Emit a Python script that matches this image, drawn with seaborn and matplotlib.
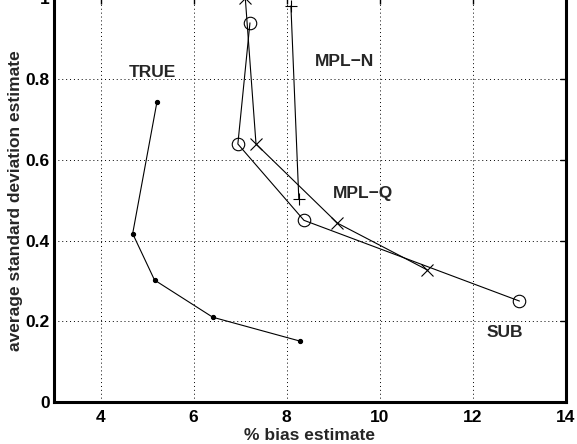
import matplotlib
matplotlib.use("Agg")
import matplotlib.pyplot as plt
import seaborn as sns
import pandas as pd

# ==========================================
# Data
# ==========================================

true_x = [5.21, 4.69, 5.16, 6.41, 8.28]
true_y = [0.742, 0.417, 0.302, 0.210, 0.151]

circ_x = [7.21, 6.95, 8.37, 13.0]
circ_y = [0.939, 0.639, 0.450, 0.250]

cross_x = [7.11, 7.34, 9.09, 11.02]
cross_y = [1.0, 0.639, 0.443, 0.327]

plus_x = [8.09, 8.26]
plus_y = [0.981, 0.502]

label_text = ["TRUE", "MPL\u2212N", "MPL\u2212Q", "SUB"]
label_x = [5.11, 9.25, 9.64, 12.69]
label_y = [0.816, 0.843, 0.517, 0.173]

x_ticks = [4, 6, 8, 10, 12, 14]
y_ticks = [0, 0.2, 0.4, 0.6, 0.8, 1.0]
y_tick_labels = ["0", "0.2", "0.4", "0.6", "0.8", "1"]

# ==========================================
# Style
# ==========================================

sns.set_theme(style="white")
plt.rcParams["font.family"] = ["Liberation Sans", "DejaVu Sans"]
plt.rcParams["font.weight"] = "bold"
plt.rcParams["font.size"] = 12.5

fig = plt.figure(figsize=(5.77, 4.44), dpi=100)
ax = fig.add_axes([54 / 577, 42 / 444, 512 / 577, 403.75 / 444])

series = [
    (true_x, true_y, "o", 3.0, "black"),
    (circ_x, circ_y, "o", 9.0, "none"),
    (cross_x, cross_y, "x", 9.0, "black"),
    (plus_x, plus_y, "+", 9.0, "black"),
]

for xs, ys, mk, ms, fc in series:
    df = pd.DataFrame({"x": xs, "y": ys})
    sns.lineplot(
        data=df,
        x="x",
        y="y",
        sort=False,
        estimator=None,
        color="black",
        linewidth=0.8,
        marker=mk,
        markersize=ms,
        markerfacecolor=fc,
        markeredgecolor="black",
        markeredgewidth=0.8,
        ax=ax,
    )

for t, lx, ly in zip(label_text, label_x, label_y):
    ax.text(lx, ly, t, ha="center", va="center",
            fontsize=12.5, fontweight="bold")

ax.set_xlim(3, 14)
ax.set_ylim(0, 1)
ax.set_xticks(x_ticks)
ax.set_yticks(y_ticks)
ax.set_yticklabels(y_tick_labels)

ax.grid(True, color="black", linewidth=0.7, linestyle=(0, (1, 3)))

for s in ax.spines.values():
    s.set_linewidth(2.2)
    s.set_color("black")

ax.tick_params(direction="in", top=True, right=True, length=4,
               width=1, colors="black", labelsize=12.5)
ax.tick_params(axis="x", pad=6)
ax.tick_params(axis="y", pad=3)

ax.set_xlabel("% bias estimate", fontsize=12.5, fontweight="bold")
ax.set_ylabel("average standard deviation estimate", fontsize=12.5,
              fontweight="bold")
ax.xaxis.set_label_coords(0.5, -0.064)
ax.yaxis.set_label_coords(-0.060, 0.5)

fig.savefig("out.png", dpi=100)
